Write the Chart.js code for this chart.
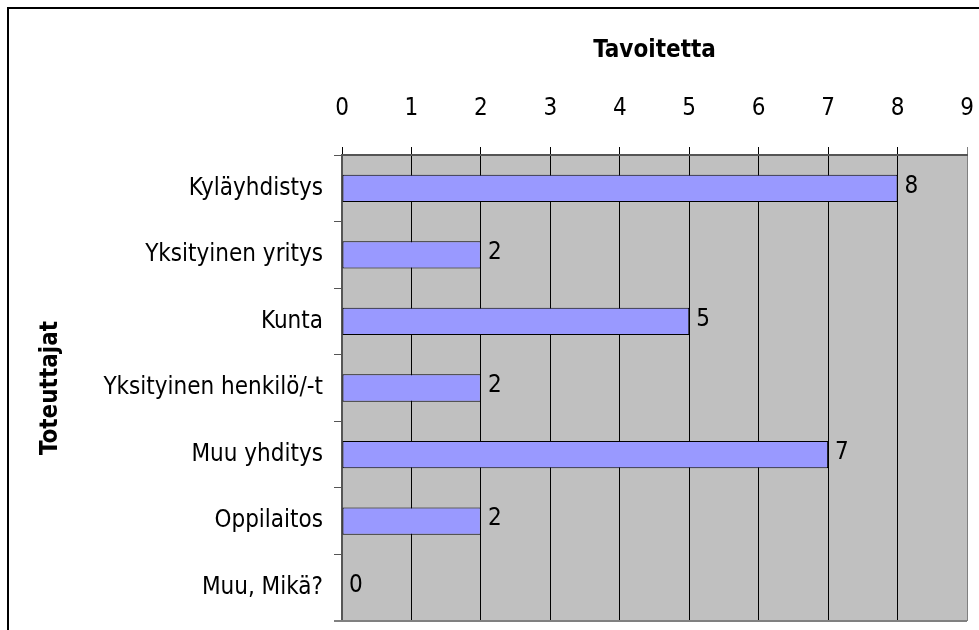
<!DOCTYPE html>
<html>
<head>
<meta charset="utf-8">
<script src="https://cdn.jsdelivr.net/npm/chart.js@4/dist/chart.umd.min.js"></script>
<style>
  html, body { margin: 0; padding: 0; background: #fff; }
  #wrap { width: 979px; height: 630px; }
</style>
</head>
<body>
<div id="wrap"><canvas id="c" width="979" height="630"></canvas></div>
<script>
const categories = ["Kyläyhdistys", "Yksityinen yritys", "Kunta", "Yksityinen henkilö/-t", "Muu yhditys", "Oppilaitos", "Muu, Mikä?"];
const values = [8, 2, 5, 2, 7, 2, 0];
const xTitle = "Tavoitetta";
const yTitle = "Toteuttajat";
const xMin = 0, xMax = 9;

const FONT = "'DejaVu Sans Condensed', 'DejaVu Sans', sans-serif";

const bgPlugin = {
  id: 'bg',
  beforeDraw(chart) {
    const { ctx, chartArea: a } = chart;
    ctx.save();
    ctx.fillStyle = '#C0C0C0';
    ctx.fillRect(a.left, a.top, a.right - a.left, a.bottom - a.top);
    ctx.restore();
  },
  afterDraw(chart) {
    const { ctx, chartArea: a } = chart;
    ctx.save();
    // bottom edge of plot
    ctx.strokeStyle = '#808080';
    ctx.lineWidth = 2;
    ctx.beginPath();
    ctx.moveTo(334, a.bottom);
    ctx.lineTo(a.right, a.bottom);
    ctx.stroke();
    // outer frame
    ctx.strokeStyle = '#000';
    ctx.lineWidth = 2;
    ctx.beginPath();
    ctx.moveTo(8, 630);
    ctx.lineTo(8, 8);
    ctx.lineTo(979, 8);
    ctx.stroke();
    ctx.restore();
  }
};

const labelPlugin = {
  id: 'vlabels',
  afterDatasetsDraw(chart) {
    const { ctx } = chart;
    const meta = chart.getDatasetMeta(0);
    ctx.save();
    ctx.font = "24px " + FONT;
    ctx.fillStyle = '#000';
    ctx.textAlign = 'left';
    ctx.textBaseline = 'middle';
    meta.data.forEach((el, i) => {
      ctx.fillText(String(values[i]), el.x + 7, el.y - 2);
    });
    ctx.restore();
  }
};

new Chart(document.getElementById('c'), {
  type: 'bar',
  data: {
    labels: categories,
    datasets: [{
      data: values,
      backgroundColor: '#9999FF',
      borderColor: '#000000',
      borderWidth: 1,
      borderSkipped: false,
      barPercentage: 0.41,
      categoryPercentage: 1.0
    }]
  },
  options: {
    indexAxis: 'y',
    responsive: false,
    animation: false,
    layout: { padding: { left: 9, top: 9, right: 12, bottom: 9 } },
    plugins: {
      legend: { display: false },
      tooltip: { enabled: false }
    },
    scales: {
      x: {
        position: 'top',
        min: xMin,
        max: xMax,
        afterFit(s) { s.height = 146; s.paddingLeft = 0; s.paddingRight = 0; },
        ticks: {
          stepSize: 1,
          color: '#000',
          padding: 24,
          font: { family: FONT, size: 24 }
        },
        grid: {
          color: (c) => (c.index === 9 ? '#808080' : '#000000'),
          lineWidth: 1,
          tickLength: 8,
          drawTicks: true
        },
        border: { color: '#555555', width: 2 },
        title: {
          display: true,
          text: xTitle,
          color: '#000',
          padding: { top: 27, bottom: 0 },
          font: { family: FONT, size: 24, weight: 'bold' }
        }
      },
      y: {
        afterFit(s) { s.width = 333; s.paddingTop = 0; s.paddingBottom = 0; },
        ticks: {
          color: '#000',
          padding: 11,
          font: { family: FONT, size: 24 }
        },
        grid: {
          offset: true,
          drawOnChartArea: false,
          color: '#555555',
          tickLength: 8
        },
        border: { color: '#555555', width: 2 },
        title: {
          display: true,
          text: yTitle,
          color: '#000',
          padding: { top: 27, bottom: 0 },
          font: { family: FONT, size: 24, weight: 'bold' }
        }
      }
    }
  },
  plugins: [bgPlugin, labelPlugin]
});
</script>
</body>
</html>
